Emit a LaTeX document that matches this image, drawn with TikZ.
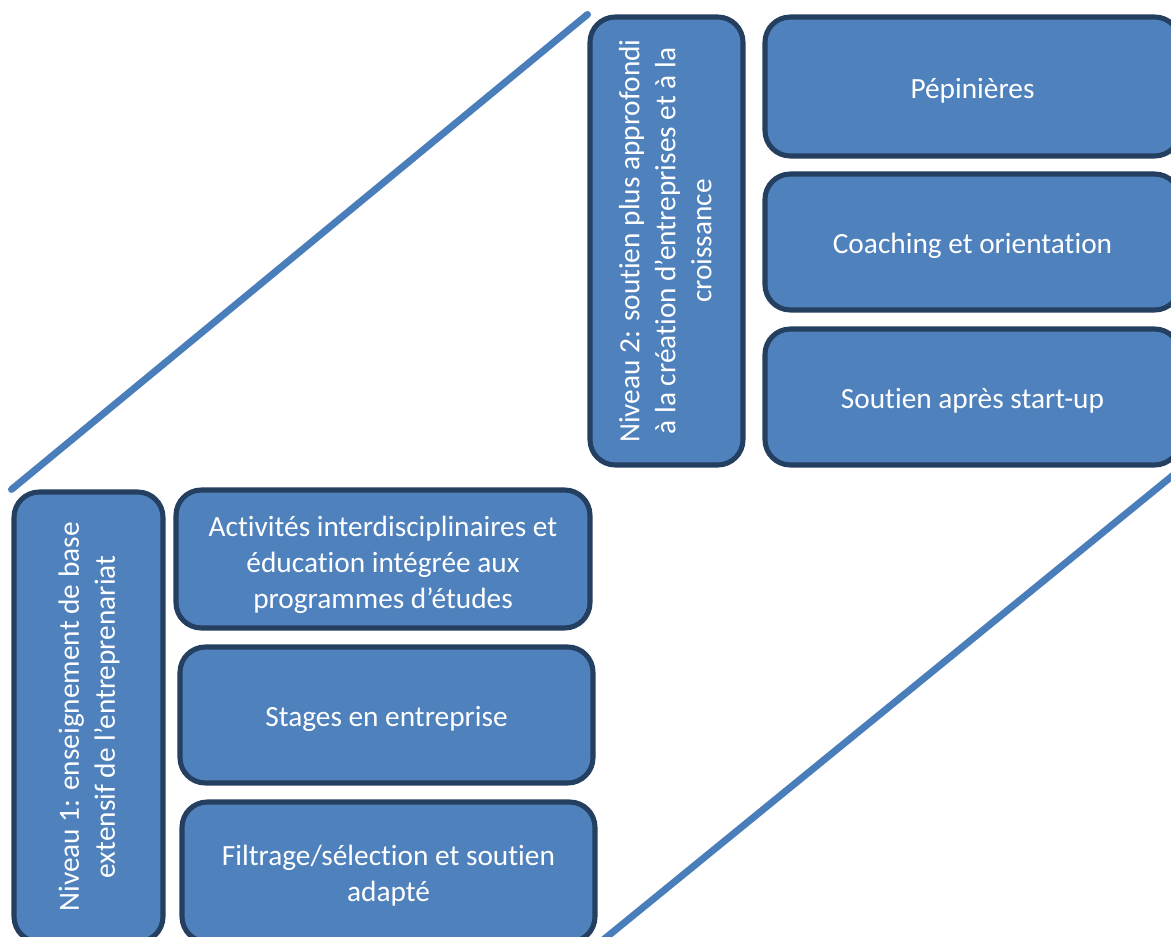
\documentclass[tikz,border=0pt]{standalone}
\usepackage{fontspec}
\setmainfont{Carlito}[Ligatures=NoCommon]
\usetikzlibrary{backgrounds}
\definecolor{boxfill}{HTML}{4F81BD}
\definecolor{boxline}{HTML}{243F60}
\definecolor{linkline}{HTML}{4A7EBB}
\begin{document}
\begin{tikzpicture}[x=0.75pt,y=-0.75pt,
  box/.style={draw=boxline, line width=3.8pt, fill=boxfill, rounded corners=19pt, inner sep=0pt},
  txt/.style={text=white, align=center, font=\fontsize{22}{27}\selectfont, inner sep=0pt},
  link/.style={draw=linkline, line width=5.2pt, line cap=round}]
\useasboundingbox (0,0) rectangle (1171,937);
\clip (0,0) rectangle (1171,937);
\node[box, minimum height=111.75pt, minimum width=337.5pt, rotate=90] (L1) at (88.5,717) {};
\node[box, minimum width=310.5pt, minimum height=103.5pt] (A) at (383,559) {};
\node[box, minimum width=309.75pt, minimum height=102pt] (B) at (386.5,715) {};
\node[box, minimum width=309.75pt, minimum height=105pt] (C) at (388.5,872) {};
\node[box, minimum height=114.75pt, minimum width=336pt, rotate=90] (L2) at (666.5,241) {};
\node[box, minimum width=311.25pt, minimum height=104.25pt] (P) at (972.5,86.5) {};
\node[box, minimum width=311.25pt, minimum height=102pt] (Co) at (972.5,242) {};
\node[box, minimum width=311.25pt, minimum height=102pt] (S) at (972.5,397) {};
\node[txt, rotate=90] (L1t) at ([xshift=0.5pt]L1.center) {Niveau 1: enseignement de base\\extensif de l’entreprenariat};
\node[txt] (At) at ([yshift=-4.5pt]A.center) {Activités interdisciplinaires et\\éducation intégrée aux\\programmes d’études};
\node[txt] (Bt) at ([yshift=-3pt]B.center) {Stages en entreprise};
\node[txt] (Ct) at ([yshift=-3pt]C.center) {Filtrage/sélection et soutien\\adapté};
\node[txt, rotate=90] (L2t) at ([xshift=-1pt]L2.center) {Niveau 2: soutien plus approfondi\\à la création d’entreprises et à la\\croissance};
\node[txt] (Pt) at ([yshift=-3pt]P.center) {Pépinières};
\node[txt] (Cot) at ([yshift=-3pt]Co.center) {Coaching et orientation};
\node[txt] (St) at ([yshift=-3pt]S.center) {Soutien après start-up};
\begin{pgfonlayer}{background}
\draw[link] (L1.north east) -- (L2.north east);
\draw[link] (C.south east) -- (S.south east);
\end{pgfonlayer}
\end{tikzpicture}
\end{document}
